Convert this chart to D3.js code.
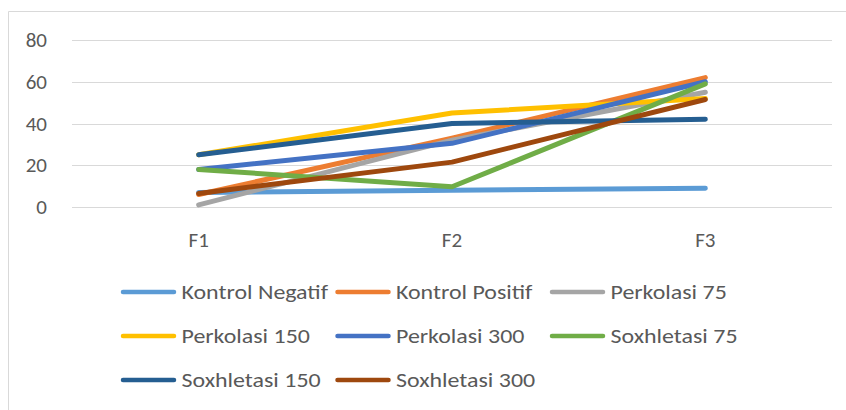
<!DOCTYPE html>
<html>
<head>
<meta charset="utf-8">
<script src="https://cdn.jsdelivr.net/npm/d3@7"></script>
<style>
  body { margin: 0; background: #fff; }
  text { font-family: Carlito, "Open Sans", sans-serif; fill: #595959; }
</style>
</head>
<body>
<svg id="chart" width="846" height="410"></svg>
<script>
// categories and series
var categories = ['F1', 'F2', 'F3'];
var seriesNames = ['Kontrol Negatif', 'Kontrol Positif', 'Perkolasi 75', 'Perkolasi 150',
  'Perkolasi 300', 'Soxhletasi 75', 'Soxhletasi 150', 'Soxhletasi 300'];
var kontrolNegatif = [7, 8, 9];
var kontrolPositif = [6, 33, 62];
var perkolasi75 = [1, 32, 55];
var perkolasi150 = [25, 45, 52];
var perkolasi300 = [18, 30.5, 60];
var soxhletasi75 = [18, 9.7, 59];
var soxhletasi150 = [25, 40, 42];
var soxhletasi300 = [6.5, 21.5, 51.5];
var yTicks = [0, 20, 40, 60, 80];
var colors = ['#5B9BD5', '#ED7D31', '#A5A5A5', '#FFC000', '#4472C4', '#70AD47', '#255E91', '#9E480E'];

var allValues = [kontrolNegatif, kontrolPositif, perkolasi75, perkolasi150,
  perkolasi300, soxhletasi75, soxhletasi150, soxhletasi300];
var series = seriesNames.map(function(name, i) {
  return { name: name, values: allValues[i], color: colors[i] };
});

var svg = d3.select('#chart');

// outer chart border (only left and top are inside the picture)
svg.append('path')
  .attr('d', 'M8.5,410 V11.5 H846')
  .attr('fill', 'none')
  .attr('stroke', '#d9d9d9')
  .attr('stroke-width', 1);

var plot = { left: 72, right: 832, top: 40, bottom: 207 };

var x = d3.scalePoint()
  .domain(categories)
  .range([plot.left, plot.right])
  .padding(0.5);

var y = d3.scaleLinear()
  .domain([0, 80])
  .range([plot.bottom, plot.top]);

// gridlines
svg.append('g')
  .selectAll('line')
  .data(yTicks)
  .enter()
  .append('line')
  .attr('x1', plot.left)
  .attr('x2', plot.right)
  .attr('y1', function(d) { return Math.round(y(d)) + 0.5; })
  .attr('y2', function(d) { return Math.round(y(d)) + 0.5; })
  .attr('stroke', '#d9d9d9')
  .attr('stroke-width', 1);

// y tick labels
svg.append('g')
  .selectAll('text')
  .data(yTicks)
  .enter()
  .append('text')
  .attr('x', 47)
  .attr('y', function(d) { return y(d); })
  .attr('dy', '0.34em')
  .attr('text-anchor', 'end')
  .style('font-size', '21px')
  .text(function(d) { return d; });

// x tick labels
svg.append('g')
  .selectAll('text')
  .data(categories)
  .enter()
  .append('text')
  .attr('x', function(d) { return x(d); })
  .attr('y', 247)
  .attr('text-anchor', 'middle')
  .style('font-size', '21px')
  .text(function(d) { return d; });

var line = d3.line()
  .x(function(d, i) { return x(categories[i]); })
  .y(function(d) { return y(d); });

svg.append('g')
  .selectAll('path')
  .data(series)
  .enter()
  .append('path')
  .attr('d', function(s) { return line(s.values); })
  .attr('fill', 'none')
  .attr('stroke', function(s) { return s.color; })
  .attr('stroke-width', 5)
  .attr('stroke-linecap', 'round')
  .attr('stroke-linejoin', 'round');

// legend, 3 per row
var colX = [123, 337.5, 552];
var rowY = [292, 336, 380];
var legend = svg.append('g')
  .selectAll('g')
  .data(series)
  .enter()
  .append('g')
  .attr('transform', function(s, i) {
    return 'translate(' + colX[i % 3] + ',' + rowY[Math.floor(i / 3)] + ')';
  });

legend.append('line')
  .attr('x1', 0)
  .attr('x2', 51)
  .attr('stroke', function(s) { return s.color; })
  .attr('stroke-width', 4.5)
  .attr('stroke-linecap', 'round');

// legend labels are drawn a bit wider than the axis text
legend.append('text')
  .attr('transform', 'translate(58.5,0) scale(1.14,1)')
  .attr('dy', '0.34em')
  .style('font-size', '21px')
  .text(function(s) { return s.name; });
</script>
</body>
</html>
